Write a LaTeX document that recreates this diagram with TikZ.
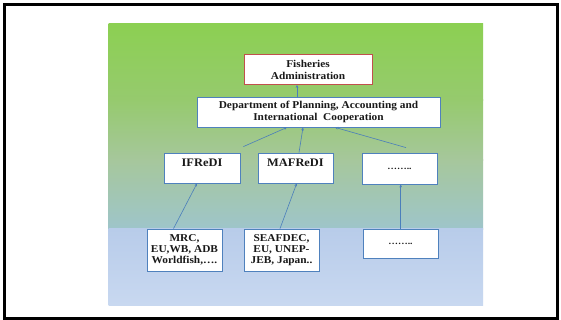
\documentclass[tikz,border=0pt]{standalone}
\usepackage{fontspec}
\setmainfont{Liberation Serif}[FakeStretch=1.08]
\usetikzlibrary{arrows.meta,calc}
\definecolor{boxblue}{RGB}{79,129,189}
\definecolor{boxred}{RGB}{192,80,77}
\definecolor{arrblue}{RGB}{74,126,187}
\definecolor{gA}{RGB}{140,208,82}
\definecolor{gB}{RGB}{150,202,110}
\definecolor{gC}{RGB}{166,199,156}
\definecolor{gD}{RGB}{158,197,202}
\definecolor{bA}{RGB}{184,204,234}
\definecolor{bB}{RGB}{200,216,240}
\definecolor{txt}{RGB}{25,25,25}
\begin{document}
\begin{tikzpicture}[x=1pt,y=-1pt,
  box/.style={draw=boxblue, fill=white, line width=0.8pt, inner sep=0pt, align=center,
    text=txt, font=\bfseries\fontsize{10.5}{11}\selectfont},
  redbox/.style={box, draw=boxred},
  wordbox/.style={box, font=\bfseries\fontsize{11.5}{12}\selectfont, text depth=10pt},
  arr/.style={draw=arrblue, line width=0.6pt, -{Stealth[length=3pt,width=2.6pt]}}]
\useasboundingbox (0,0) rectangle (561,320);
\fill[white] (0,0) rectangle (561,320);
% gradient panel
\shade[top color=gA, bottom color=gB] (108.5,23.5) rectangle (483,100.5);
\shade[top color=gB, bottom color=gC] (108.5,100) rectangle (483,160.5);
\shade[top color=gC, bottom color=gD] (108.5,160) rectangle (483,229);
\shade[top color=bA, bottom color=bB] (108.5,228.8) rectangle (483,305);
% frame
\draw[black, line width=3pt] (4.5,5) rectangle (557,318.5);
% nodes
\node[redbox, minimum width=128pt, minimum height=30pt, font=\bfseries\fontsize{10.5}{12}\selectfont] (fish) at (308,69.5) {Fisheries\\Administration};
\node[box, minimum width=243pt, minimum height=30pt, font=\bfseries\fontsize{10.5}{12}\selectfont] (dept) at (318.5,112) {Department of Planning, Accounting and\\International\ \ Cooperation};
\node[wordbox, minimum width=76pt, minimum height=30pt] (ifr) at (202,168) {IFReDI};
\node[wordbox, minimum width=75pt, minimum height=30pt] (maf) at (295.5,168) {MAFReDI};
\node[box, minimum width=75pt, minimum height=31pt, font=\bfseries\fontsize{9}{10}\selectfont] (dotsa) at (399.5,168.5) {……..};
\node[box, minimum width=75pt, minimum height=42pt] (mrc) at (184.5,250) {MRC,\\EU,WB, ADB\\Worldfish,….};
\node[box, minimum width=75pt, minimum height=42pt] (sea) at (281.5,250) {SEAFDEC,\\EU, UNEP-\\JEB, Japan..};
\node[box, minimum width=75pt, minimum height=29pt, font=\bfseries\fontsize{9}{10}\selectfont] (dotsb) at (400.5,243.5) {……..};
% connectors
\draw[arr] ($(dept.north)+(-21.5,0)$) -- ($(fish.south)+(-11,0)$);
\coordinate (ifrtop) at ($(ifr.north east)+(3,-6)$);
\draw[arr] (ifrtop) -- ($(dept.south)+(-31.5,0)$);
\draw[arr] ($(maf.north)+(3.5,0)$) -- ($(dept.south)+(-15.5,0)$);
\coordinate (dotstop) at ($(dotsa.north)+(6.5,-5)$);
\draw[arr] (dotstop) -- ($(dept.south)+(16.5,0)$);
\draw[arr] ($(mrc.north)+(-11,0)$) -- ($(ifr.south)+(-5,0)$);
\draw[arr] ($(sea.north)+(-1.5,0)$) -- ($(maf.south)+(1.2,0)$);
\draw[arr] ($(dotsb.north)+(0.2,0)$) -- ($(dotsa.south)+(1.2,0)$);
\end{tikzpicture}
\end{document}
